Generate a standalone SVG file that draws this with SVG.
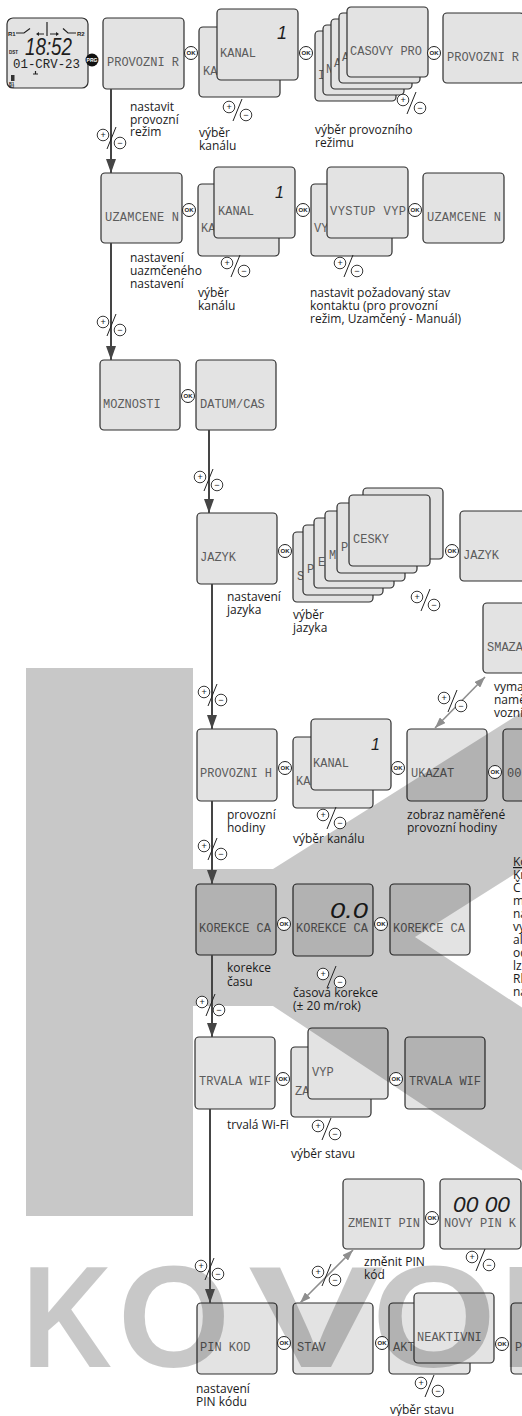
<svg xmlns="http://www.w3.org/2000/svg" xmlns:xlink="http://www.w3.org/1999/xlink" width="522" height="1416" viewBox="0 0 522 1416">
<defs>
<style>
.box{fill:#e3e3e3;stroke:#2e2e2e;stroke-width:1.2}
.lcd{font-family:"Liberation Mono","DejaVu Sans Mono",monospace;font-size:12px;fill:#5c5c5c}
.big{font-family:"Liberation Sans",sans-serif;font-style:italic;fill:#1e1e1e}
.tiny{font-family:"Liberation Sans",sans-serif;font-weight:bold;fill:#222}
.lbl{font-family:"Open Sans","Liberation Sans",sans-serif;font-size:12px;fill:#1a1a1a}
.main{stroke:#454545;stroke-width:2;fill:none;marker-end:url(#ah)}
.dbl{stroke:#8e8e8e;stroke-width:1.6;fill:none;marker-start:url(#ag);marker-end:url(#ag)}
.okc{fill:#fff;stroke:#222;stroke-width:1}
.okt{font-family:"Liberation Sans",sans-serif;font-size:6px;font-weight:bold;fill:#222;text-anchor:middle}
.pmc{fill:#fff;stroke:#222;stroke-width:0.9}
.pms{stroke:#222;stroke-width:1}
.pmt{font-family:"Liberation Sans",sans-serif;font-size:9px;fill:#222;text-anchor:middle}
.wm{fill:#000;fill-opacity:0.215}
.wml{font-family:"Liberation Sans",sans-serif;font-weight:bold;font-size:145px}
.sw{stroke:#222;stroke-width:1.2;fill:none}
</style>
<marker id="ah" markerUnits="userSpaceOnUse" markerWidth="14" markerHeight="10" viewBox="0 0 14 10" refX="14" refY="5" orient="auto"><path d="M0,0 L14,5 L0,10 Z" fill="#454545"/></marker>
<marker id="ag" markerUnits="userSpaceOnUse" markerWidth="11" markerHeight="8" viewBox="0 0 11 8" refX="11" refY="4" orient="auto-start-reverse"><path d="M0,0 L11,4 L0,8 Z" fill="#8e8e8e"/></marker>
<g id="pmc"><circle class="pmc" r="5.8"/><circle class="pmc" cx="17" cy="8" r="5.8"/><line class="pms" x1="13" y1="-8" x2="4" y2="14"/></g>
</defs>
<rect width="522" height="1416" fill="#fff"/>

<!-- NODES -->
<g id="n-lcd">
<rect class="box" x="7" y="18" width="81" height="70" rx="6"/>
<text class="tiny" x="8" y="36" font-size="6">R1</text>
<text class="tiny" x="77" y="36" font-size="6">R2</text>
<path class="sw" d="M16,33 H24 L30,28.5 M44,34 H37 M47,22 V36 M50,34 H58 M63,28.5 L68,33 H76"/>
<path d="M36,34 l3,-2 v4 z M59,34 l-3,-2 v4 z" fill="#222"/>
<text class="big" x="25" y="55" font-size="24" textLength="47" lengthAdjust="spacingAndGlyphs">18:52</text>
<text class="tiny" x="9" y="54" font-size="4.5">DST</text>
<text class="lcd" x="13" y="68" font-size="13" style="fill:#222" textLength="67" lengthAdjust="spacingAndGlyphs">01-CRV-23</text>
<path class="sw" d="M33,74 H38 M35.5,71 V74" stroke-width="0.8"/>
<rect x="11" y="75" width="3.5" height="6" fill="#333"/>
<text class="tiny" x="9" y="84.5" font-size="4">R1</text>
<text class="tiny" x="9" y="88" font-size="4">R2</text>
</g>

<g id="n-provozni-r"><rect class="box" x="103" y="18" width="81" height="71" rx="4"/><text class="lcd" x="107" y="65.5">PROVOZNI R</text></g>
<g id="n-kanal-1">
<rect class="box" x="199" y="27" width="81" height="70" rx="4"/><text class="lcd" x="203" y="74.5">KA</text>
<rect class="box" x="217" y="9" width="81" height="71" rx="4"/><text class="lcd" x="220" y="56.5">KANAL</text>
<text class="big" x="277" y="39" font-size="18">1</text>
</g>
<g id="n-rezim-stack">
<rect class="box" x="315" y="31" width="81" height="70" rx="4"/><text class="lcd" x="318" y="78.5">I</text>
<rect class="box" x="323" y="25" width="81" height="70" rx="4"/><text class="lcd" x="326" y="72.5">N</text>
<rect class="box" x="331" y="19" width="81" height="70" rx="4"/><text class="lcd" x="334" y="66.5">A</text>
<rect class="box" x="339" y="13" width="81" height="70" rx="4"/><text class="lcd" x="342" y="60.5">A</text>
<rect class="box" x="347" y="7" width="81" height="70" rx="4"/><text class="lcd" x="350" y="54.5">CASOVY PRO</text>
</g>
<g id="n-provozni-r-2"><rect class="box" x="443" y="13" width="81" height="70" rx="4"/><text class="lcd" x="447" y="60.5">PROVOZNI R</text></g>

<g id="n-uzamcene"><rect class="box" x="101" y="173" width="81" height="70" rx="4"/><text class="lcd" x="105" y="220.5" textLength="74">UZAMCENE N</text></g>
<g id="n-kanal-2">
<rect class="box" x="198" y="184" width="81" height="72" rx="4"/><text class="lcd" x="201" y="231.5">KA</text>
<rect class="box" x="214" y="167" width="81" height="71" rx="4"/><text class="lcd" x="218" y="214.5">KANAL</text>
<text class="big" x="275" y="198" font-size="16">1</text>
</g>
<g id="n-vystup">
<rect class="box" x="311" y="184" width="81" height="72" rx="4"/><text class="lcd" x="314" y="231.5">VY</text>
<rect class="box" x="327" y="167" width="81" height="71" rx="4"/><text class="lcd" x="330" y="214.5" textLength="76">VYSTUP VYP</text>
</g>
<g id="n-uzamcene-2"><rect class="box" x="423" y="173" width="81" height="70" rx="4"/><text class="lcd" x="427" y="220.5" textLength="74">UZAMCENE N</text></g>

<g id="n-moznosti"><rect class="box" x="100" y="360" width="80" height="70" rx="4"/><text class="lcd" x="103" y="407.5">MOZNOSTI</text></g>
<g id="n-datum"><rect class="box" x="196" y="360" width="80" height="70" rx="4"/><text class="lcd" x="200" y="407.5">DATUM/CAS</text></g>

<g id="n-jazyk"><rect class="box" x="197" y="513" width="80" height="71" rx="4"/><text class="lcd" x="200" y="560.5">JAZYK</text></g>
<g id="n-jazyk-stack">
<rect class="box" x="363" y="488" width="80" height="71" rx="4"/>
<rect class="box" x="293" y="532" width="80" height="70" rx="4"/><text class="lcd" x="297" y="579.5">S</text>
<rect class="box" x="303" y="525" width="80" height="70" rx="4"/><text class="lcd" x="307" y="572.5">P</text>
<rect class="box" x="314" y="518" width="80" height="70" rx="4"/><text class="lcd" x="318" y="565.5">E</text>
<rect class="box" x="325" y="511" width="80" height="70" rx="4"/><text class="lcd" x="329" y="558.5">M</text>
<rect class="box" x="337" y="503" width="80" height="70" rx="4"/><text class="lcd" x="341" y="550.5">P</text>
<rect class="box" x="349" y="495" width="81" height="71" rx="4"/><text class="lcd" x="353" y="542.5">CESKY</text>
</g>
<g id="n-jazyk-2"><rect class="box" x="460" y="511" width="81" height="70" rx="4"/><text class="lcd" x="463" y="558.5">JAZYK</text></g>
<g id="n-smazat"><rect class="box" x="483" y="603" width="81" height="70" rx="4"/><text class="lcd" x="487" y="650.5">SMAZA</text></g>

<g id="n-provozni-h"><rect class="box" x="197" y="729" width="80" height="72" rx="4"/><text class="lcd" x="200" y="776.5">PROVOZNI H</text></g>
<g id="n-kanal-3">
<rect class="box" x="293" y="737" width="80" height="71" rx="4"/><text class="lcd" x="296" y="784.5">KA</text>
<rect class="box" x="311" y="719" width="80" height="71" rx="4"/><text class="lcd" x="313" y="766.5">KANAL</text>
<text class="big" x="371" y="750" font-size="16">1</text>
</g>
<g id="n-ukazat"><rect class="box" x="407" y="729" width="80" height="72" rx="4"/><text class="lcd" x="411" y="776.5">UKAZAT</text></g>
<g id="n-hodnota"><rect class="box" x="503" y="729" width="80" height="72" rx="4"/><text class="lcd" x="507" y="776.5">00</text></g>

<g id="n-korekce"><rect class="box" x="196" y="884" width="80" height="71" rx="4"/><text class="lcd" x="199" y="931.5">KOREKCE CA</text></g>
<g id="n-korekce-2"><rect class="box" x="293" y="884" width="80" height="72" rx="4"/><text class="lcd" x="296" y="931.5">KOREKCE CA</text>
<text class="big" x="330" y="918" font-size="22" textLength="38" lengthAdjust="spacingAndGlyphs">0.0</text></g>
<g id="n-korekce-3"><rect class="box" x="390" y="884" width="80" height="71" rx="4"/><text class="lcd" x="393" y="931.5">KOREKCE CA</text></g>

<g id="n-trvala"><rect class="box" x="195" y="1037" width="80" height="72" rx="4"/><text class="lcd" x="199" y="1084.5">TRVALA WIF</text></g>
<g id="n-vyp">
<rect class="box" x="291" y="1047" width="80" height="70" rx="4"/><text class="lcd" x="295" y="1094.5">ZA</text>
<rect class="box" x="308" y="1028" width="80" height="71" rx="4"/><text class="lcd" x="312" y="1075.5">VYP</text>
</g>
<g id="n-trvala-2"><rect class="box" x="405" y="1037" width="80" height="72" rx="4"/><text class="lcd" x="409" y="1084.5">TRVALA WIF</text></g>

<g id="n-zmenit"><rect class="box" x="343" y="1179" width="81" height="70" rx="4"/><text class="lcd" x="348" y="1226.5">ZMENIT PIN</text></g>
<g id="n-novy"><rect class="box" x="440" y="1179" width="81" height="70" rx="4"/><text class="lcd" x="444" y="1226.5">NOVY PIN K</text>
<text class="big" x="453" y="1212" font-size="22" textLength="57" lengthAdjust="spacingAndGlyphs">00 00</text></g>

<g id="n-pin"><rect class="box" x="197" y="1303" width="80" height="71" rx="4"/><text class="lcd" x="200" y="1350.5">PIN KOD</text></g>
<g id="n-stav"><rect class="box" x="293" y="1303" width="80" height="71" rx="4"/><text class="lcd" x="297" y="1350.5">STAV</text></g>
<g id="n-neaktivni">
<rect class="box" x="389" y="1303" width="81" height="71" rx="4"/><text class="lcd" x="393" y="1350.5">AKT</text>
<rect class="box" x="414" y="1293" width="80" height="70" rx="4"/><text class="lcd" x="417" y="1340.5">NEAKTIVNI</text>
</g>
<g id="n-pin-2"><rect class="box" x="511" y="1303" width="80" height="71" rx="4"/><text class="lcd" x="515" y="1350.5">P</text></g>

<!-- WATERMARK -->
<g id="watermark" class="wm">
<polygon points="26,668 193,668 193,869 273,869 600,663 600,820 415,937 600,1059 600,1222 273,1006 193,1006 193,1216 26,1216"/>
<text class="wml" x="22" y="1367" textLength="90" lengthAdjust="spacingAndGlyphs">K</text>
<text class="wml" x="118" y="1367" textLength="112" lengthAdjust="spacingAndGlyphs">O</text>
<text class="wml" x="248" y="1367" textLength="136" lengthAdjust="spacingAndGlyphs">V</text>
<text class="wml" x="372" y="1367" textLength="124" lengthAdjust="spacingAndGlyphs">O</text>
<text class="wml" x="500" y="1367" textLength="96" lengthAdjust="spacingAndGlyphs">P</text>
</g>

<!-- CONNECTORS -->
<g id="connectors">
<line class="main" x1="111" y1="89" x2="111" y2="173"/>
<line class="main" x1="111" y1="243" x2="111" y2="360"/>
<line class="main" x1="209" y1="430" x2="209" y2="513"/>
<line class="main" x1="212" y1="584" x2="212" y2="729"/>
<line class="main" x1="212" y1="801" x2="212" y2="884"/>
<line class="main" x1="212" y1="955" x2="212" y2="1037"/>
<line class="main" x1="210" y1="1109" x2="210" y2="1303"/>
<line class="dbl" x1="435" y1="728" x2="485" y2="677"/>
<line class="dbl" x1="300" y1="1303" x2="353" y2="1250"/>
</g>

<!-- PRG / OK buttons -->
<g id="buttons">
<g transform="translate(92,60)"><circle r="6.5" fill="#111"/><text class="okt" y="2" style="fill:#fff;font-size:5px">PRG</text></g>
<g transform="translate(191,53)"><circle class="okc" r="6.5"/><text class="okt" y="2.1">OK</text></g>
<g transform="translate(306,53)"><circle class="okc" r="6.5"/><text class="okt" y="2.1">OK</text></g>
<g transform="translate(434,53)"><circle class="okc" r="6.5"/><text class="okt" y="2.1">OK</text></g>
<g transform="translate(189,210)"><circle class="okc" r="6.5"/><text class="okt" y="2.1">OK</text></g>
<g transform="translate(303,210)"><circle class="okc" r="6.5"/><text class="okt" y="2.1">OK</text></g>
<g transform="translate(415,210)"><circle class="okc" r="6.5"/><text class="okt" y="2.1">OK</text></g>
<g transform="translate(188,396)"><circle class="okc" r="6.5"/><text class="okt" y="2.1">OK</text></g>
<g transform="translate(285,551)"><circle class="okc" r="6.5"/><text class="okt" y="2.1">OK</text></g>
<g transform="translate(452,551)"><circle class="okc" r="6.5"/><text class="okt" y="2.1">OK</text></g>
<g transform="translate(285,768)"><circle class="okc" r="6.5"/><text class="okt" y="2.1">OK</text></g>
<g transform="translate(398,768)"><circle class="okc" r="6.5"/><text class="okt" y="2.1">OK</text></g>
<g transform="translate(495,772)"><circle class="okc" r="6.5"/><text class="okt" y="2.1">OK</text></g>
<g transform="translate(284,924)"><circle class="okc" r="6.5"/><text class="okt" y="2.1">OK</text></g>
<g transform="translate(381,924)"><circle class="okc" r="6.5"/><text class="okt" y="2.1">OK</text></g>
<g transform="translate(283,1079)"><circle class="okc" r="6.5"/><text class="okt" y="2.1">OK</text></g>
<g transform="translate(396,1079)"><circle class="okc" r="6.5"/><text class="okt" y="2.1">OK</text></g>
<g transform="translate(432,1218)"><circle class="okc" r="6.5"/><text class="okt" y="2.1">OK</text></g>
<g transform="translate(284,1343)"><circle class="okc" r="6.5"/><text class="okt" y="2.1">OK</text></g>
<g transform="translate(382,1343)"><circle class="okc" r="6.5"/><text class="okt" y="2.1">OK</text></g>
<g transform="translate(502,1344)"><circle class="okc" r="6.5"/><text class="okt" y="2.1">OK</text></g>
</g>

<!-- +/- symbols -->
<g id="plusminus">
<g transform="translate(103,135)"><use xlink:href="#pmc" href="#pmc"/><text class="pmt" y="3.2">+</text><text class="pmt" x="17" y="11.2">−</text></g>
<g transform="translate(229,107)"><use xlink:href="#pmc" href="#pmc"/><text class="pmt" y="3.2">+</text><text class="pmt" x="17" y="11.2">−</text></g>
<g transform="translate(403,100)"><use xlink:href="#pmc" href="#pmc"/><text class="pmt" y="3.2">+</text><text class="pmt" x="17" y="11.2">−</text></g>
<g transform="translate(103,322)"><use xlink:href="#pmc" href="#pmc"/><text class="pmt" y="3.2">+</text><text class="pmt" x="17" y="11.2">−</text></g>
<g transform="translate(227,263)"><use xlink:href="#pmc" href="#pmc"/><text class="pmt" y="3.2">+</text><text class="pmt" x="17" y="11.2">−</text></g>
<g transform="translate(340,263)"><use xlink:href="#pmc" href="#pmc"/><text class="pmt" y="3.2">+</text><text class="pmt" x="17" y="11.2">−</text></g>
<g transform="translate(200,477)"><use xlink:href="#pmc" href="#pmc"/><text class="pmt" y="3.2">+</text><text class="pmt" x="17" y="11.2">−</text></g>
<g transform="translate(417,597)"><use xlink:href="#pmc" href="#pmc"/><text class="pmt" y="3.2">+</text><text class="pmt" x="17" y="11.2">−</text></g>
<g transform="translate(204,692)"><use xlink:href="#pmc" href="#pmc"/><text class="pmt" y="3.2">+</text><text class="pmt" x="17" y="11.2">−</text></g>
<g transform="translate(444,698)"><use xlink:href="#pmc" href="#pmc"/><text class="pmt" y="3.2">+</text><text class="pmt" x="17" y="11.2">−</text></g>
<g transform="translate(323,815)"><use xlink:href="#pmc" href="#pmc"/><text class="pmt" y="3.2">+</text><text class="pmt" x="17" y="11.2">−</text></g>
<g transform="translate(204,846)"><use xlink:href="#pmc" href="#pmc"/><text class="pmt" y="3.2">+</text><text class="pmt" x="17" y="11.2">−</text></g>
<g transform="translate(323,974)"><use xlink:href="#pmc" href="#pmc"/><text class="pmt" y="3.2">+</text><text class="pmt" x="17" y="11.2">−</text></g>
<g transform="translate(202,1002)"><use xlink:href="#pmc" href="#pmc"/><text class="pmt" y="3.2">+</text><text class="pmt" x="17" y="11.2">−</text></g>
<g transform="translate(318,1126)"><use xlink:href="#pmc" href="#pmc"/><text class="pmt" y="3.2">+</text><text class="pmt" x="17" y="11.2">−</text></g>
<g transform="translate(201,1266)"><use xlink:href="#pmc" href="#pmc"/><text class="pmt" y="3.2">+</text><text class="pmt" x="17" y="11.2">−</text></g>
<g transform="translate(318,1272)"><use xlink:href="#pmc" href="#pmc"/><text class="pmt" y="3.2">+</text><text class="pmt" x="17" y="11.2">−</text></g>
<g transform="translate(472,1257)"><use xlink:href="#pmc" href="#pmc"/><text class="pmt" y="3.2">+</text><text class="pmt" x="17" y="11.2">−</text></g>
<g transform="translate(421,1383)"><use xlink:href="#pmc" href="#pmc"/><text class="pmt" y="3.2">+</text><text class="pmt" x="17" y="11.2">−</text></g>
</g>

<!-- LABELS -->
<g id="labels" class="lbl">
<text><tspan x="130" y="111">nastavit</tspan><tspan x="130" y="123.5">provozní</tspan><tspan x="130" y="136">režim</tspan></text>
<text><tspan x="199" y="137">výběr</tspan><tspan x="199" y="149.5">kanálu</tspan></text>
<text><tspan x="315" y="134">výběr provozního</tspan><tspan x="315" y="146.5">režimu</tspan></text>
<text><tspan x="130" y="262">nastavení</tspan><tspan x="130" y="275">uazmčeného</tspan><tspan x="130" y="288">nastavení</tspan></text>
<text><tspan x="198" y="297">výběr</tspan><tspan x="198" y="310">kanálu</tspan></text>
<text><tspan x="310" y="297">nastavit požadovaný stav</tspan><tspan x="310" y="310">kontaktu (pro provozní</tspan><tspan x="310" y="323">režim, Uzamčený - Manuál)</tspan></text>
<text><tspan x="227" y="601">nastavení</tspan><tspan x="227" y="614">jazyka</tspan></text>
<text><tspan x="293" y="619">výběr</tspan><tspan x="293" y="632">jazyka</tspan></text>
<text><tspan x="494" y="691">vyma</tspan><tspan x="494" y="704">namě</tspan><tspan x="494" y="717">vozní</tspan></text>
<text><tspan x="227" y="819">provozní</tspan><tspan x="227" y="831.5">hodiny</tspan></text>
<text x="293" y="843">výběr kanálu</text>
<text><tspan x="407" y="819">zobraz naměřené</tspan><tspan x="407" y="831.5">provozní hodiny</tspan></text>
<text><tspan x="513" y="866" text-decoration="underline">Ko</tspan><tspan x="513" y="879">Kr</tspan><tspan x="513" y="892">Č</tspan><tspan x="513" y="905">m</tspan><tspan x="513" y="918">na</tspan><tspan x="513" y="931">vy</tspan><tspan x="513" y="944">aĺ</tspan><tspan x="513" y="957">od</tspan><tspan x="513" y="970">lz</tspan><tspan x="513" y="983">Rl</tspan><tspan x="513" y="996">na</tspan></text>
<text><tspan x="227" y="972">korekce</tspan><tspan x="227" y="986">času</tspan></text>
<text><tspan x="293" y="997">časová korekce</tspan><tspan x="293" y="1010">(± 20 m/rok)</tspan></text>
<text x="227" y="1129">trvalá Wi-Fi</text>
<text x="291" y="1158">výběr stavu</text>
<text><tspan x="364" y="1266">změnit PIN</tspan><tspan x="364" y="1279">kód</tspan></text>
<text><tspan x="196" y="1393">nastavení</tspan><tspan x="196" y="1406">PIN kódu</tspan></text>
<text x="390" y="1414">výběr stavu</text>
</g>
</svg>
